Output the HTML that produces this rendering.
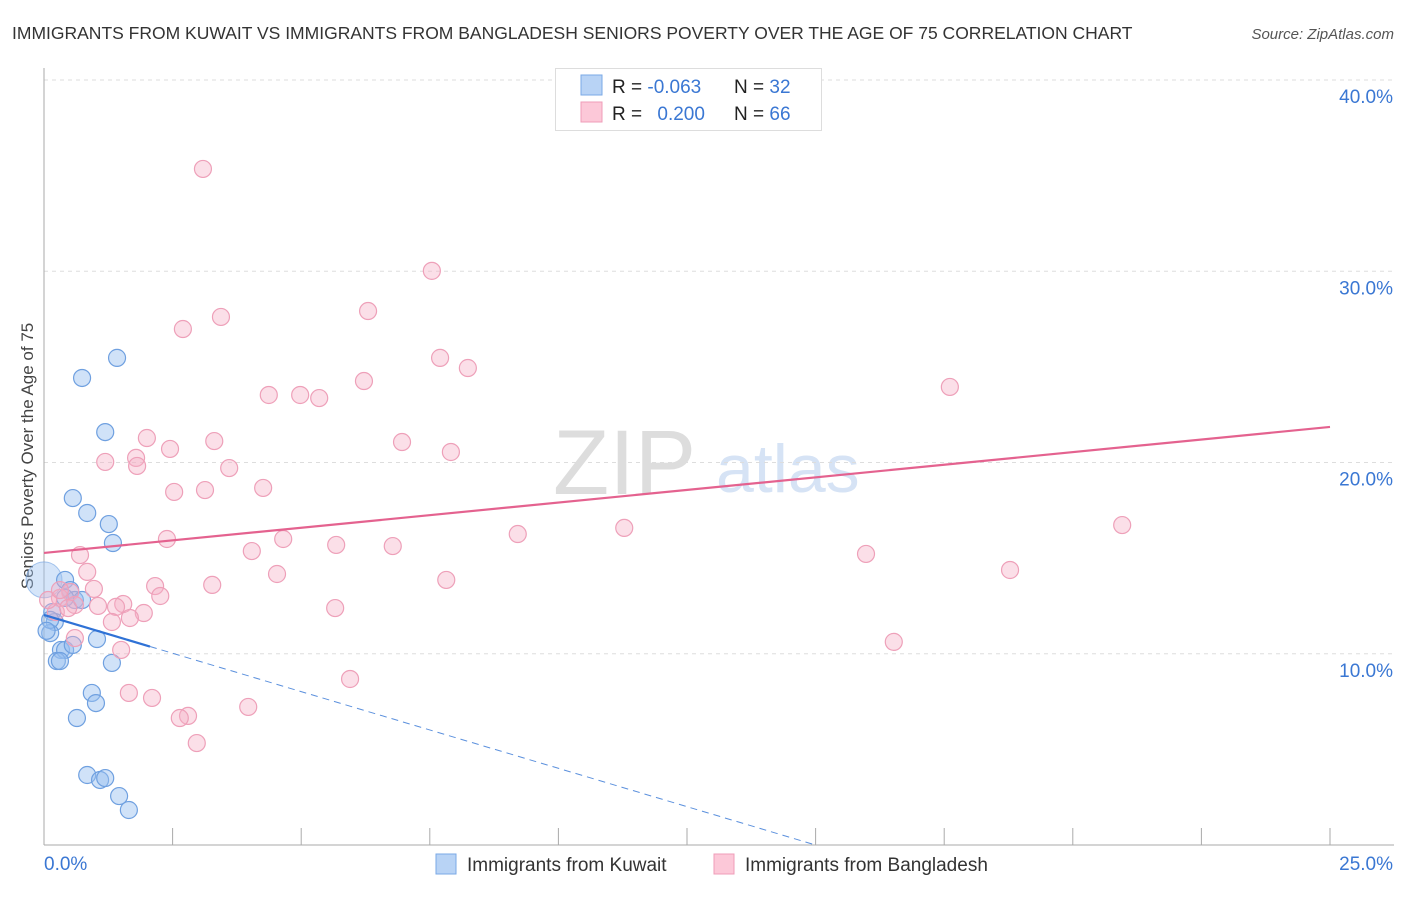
<!DOCTYPE html>
<html><head><meta charset="utf-8"><style>
body{margin:0;background:#fff;font-family:"Liberation Sans",sans-serif;}
svg text{font-family:"Liberation Sans",sans-serif;}
</style></head><body>
<svg id="c" width="1406" height="892" xmlns="http://www.w3.org/2000/svg">
<text x="12" y="39" font-size="17.5" fill="#333">IMMIGRANTS FROM KUWAIT VS IMMIGRANTS FROM BANGLADESH SENIORS POVERTY OVER THE AGE OF 75 CORRELATION CHART</text>
<text x="1394" y="39" font-size="15" fill="#555" font-style="italic" text-anchor="end">Source: ZipAtlas.com</text>
<text transform="translate(33,456) rotate(-90)" font-size="17" fill="#444" text-anchor="middle">Seniors Poverty Over the Age of 75</text>
<g>
<text x="553" y="494" font-size="92" fill="#ddd" font-family="Liberation Serif">ZIP</text>
<text x="716" y="492" font-size="68" fill="#d6e3f5">atlas</text>
</g>
<g id="grid"></g><g id="axes"></g><g id="pts"></g><g id="lines"></g>
<g>
<rect x="555.5" y="68.5" width="266" height="62" fill="#fff" stroke="#ddd"/>
<rect x="581" y="75" width="21" height="20" fill="#b8d3f5" stroke="#7aa8e6"/>
<rect x="581" y="102" width="21" height="20" fill="#fcc8d8" stroke="#ef9db8"/>
<text x="612" y="93" font-size="19" fill="#222">R = <tspan fill="#3a77d3">-0.063</tspan></text>
<text x="734" y="93" font-size="19" fill="#222">N = <tspan fill="#3a77d3">32</tspan></text>
<text x="612" y="120" font-size="19" fill="#222">R = <tspan fill="#3a77d3" dx="10">0.200</tspan></text>
<text x="734" y="120" font-size="19" fill="#222">N = <tspan fill="#3a77d3">66</tspan></text>
</g>
<g>
<rect x="436" y="854" width="20" height="20" fill="#b8d3f5" stroke="#7aa8e6"/>
<text x="467" y="871" font-size="19" fill="#333">Immigrants from Kuwait</text>
<rect x="714" y="854" width="20" height="20" fill="#fcc8d8" stroke="#ef9db8"/>
<text x="745" y="871" font-size="19" fill="#333">Immigrants from Bangladesh</text>
</g>
</svg>
<script>
const yTicks=[10,20,30,40];
const yTickLabels=["10.0%","20.0%","30.0%","40.0%"];
const xTickCount=10;
const xEndLabels=["0.0%","25.0%"];
const kuwaitX=[1.42,0.74,1.19,0.56,0.84,1.26,1.34,0.41,0.51,0.60,0.74,0.16,0.21,0.12,0.33,0.41,0.56,1.03,0.25,0.31,1.32,0.93,1.01,0.64,0.84,1.09,1.19,1.46,1.65,0.12,0.41,0.05];
const kuwaitY=[25.47,24.42,21.59,18.14,17.36,16.78,15.79,13.86,13.33,12.81,12.81,12.18,11.66,11.08,10.20,10.20,10.46,10.77,9.62,9.62,9.52,7.95,7.42,6.64,3.66,3.40,3.50,2.56,1.83,11.77,12.92,11.2];
const bangX=[3.09,7.54,6.30,3.44,2.70,7.70,8.24,6.22,17.61,4.37,4.98,5.35,2.00,3.31,6.96,2.45,7.91,1.19,1.79,1.81,3.60,2.53,3.13,4.26,20.96,11.28,9.21,2.39,4.65,5.68,6.78,4.04,15.98,0.70,18.78,0.84,4.53,7.82,2.16,3.27,0.97,0.51,2.26,0.31,1.54,1.40,1.05,5.66,1.94,0.60,0.23,1.67,1.32,16.52,1.50,0.60,5.95,1.65,2.10,3.97,2.80,2.64,2.97,0.08,0.31,0.47];
const bangY=[35.35,30.02,27.92,27.61,26.98,25.47,24.94,24.26,23.95,23.53,23.53,23.37,21.28,21.12,21.07,20.71,20.55,20.03,20.24,19.82,19.71,18.46,18.56,18.67,16.73,16.58,16.26,16.00,16.00,15.69,15.63,15.37,15.22,15.16,14.38,14.28,14.17,13.86,13.54,13.60,13.39,13.23,13.02,12.92,12.60,12.45,12.50,12.39,12.13,12.55,12.18,11.87,11.66,10.62,10.20,10.82,8.68,7.95,7.69,7.22,6.75,6.64,5.33,12.81,13.33,12.39];
const bangTrend=[15.27,21.86];
const kuwaitTrend=[12.03,-0.802];
const kuwaitSolidEnd=2.06;
const kuwaitBig=[0,13.86];

const NS="http://www.w3.org/2000/svg";
const X0=44,X1=1330,Y0=845,Y40=80;
const sx=v=>X0+v/25*(X1-X0);
const sy=v=>Y0-v/40*(Y0-Y40);
function mk(t,a,p){const e=document.createElementNS(NS,t);for(const k in a)e.setAttribute(k,a[k]);p.appendChild(e);return e;}
const grid=document.getElementById('grid'),axes=document.getElementById('axes'),pts=document.getElementById('pts'),lines=document.getElementById('lines');
yTicks.forEach((t,i)=>{
 const g=mk('line',{x1:X0,x2:1394,y1:sy(t),y2:sy(t),stroke:'#ddd','stroke-dasharray':'4,4'},grid);
 
 
 const l=mk('text',{x:1393,y:sy(t)+23,'font-size':19,fill:'#3a77d3','text-anchor':'end'},axes);
 l.textContent=yTickLabels[i];
 
 
});
const ya=mk('line',{x1:X0,x2:X0,y1:68,y2:Y0,stroke:'#aaa'},axes);


const xa=mk('line',{x1:X0,x2:1394,y1:Y0,y2:Y0,stroke:'#aaa'},axes);


for(let i=0;i<=xTickCount;i++){
 const v=25*i/xTickCount;
 const t=mk('line',{x1:sx(v),x2:sx(v),y1:Y0,y2:Y0-17,stroke:'#aaa'},axes);
 
 
}
const xl0=mk('text',{x:44,y:870,'font-size':19,fill:'#3a77d3'},axes);xl0.textContent=xEndLabels[0];


const xl1=mk('text',{x:1393,y:870,'font-size':19,fill:'#3a77d3','text-anchor':'end'},axes);xl1.textContent=xEndLabels[1];



const big=mk('circle',{cx:sx(kuwaitBig[0]),cy:sy(kuwaitBig[1]),r:18,fill:'rgba(150,190,240,0.4)',stroke:'rgba(110,160,225,0.6)'},pts);


kuwaitX.forEach((x,i)=>{
 const c=mk('circle',{cx:sx(x),cy:sy(kuwaitY[i]),r:8.5,fill:'rgba(150,190,240,0.45)',stroke:'#6fa0e0','stroke-width':1.2},pts);
 
 
});
bangX.forEach((x,i)=>{
 const c=mk('circle',{cx:sx(x),cy:sy(bangY[i]),r:8.5,fill:'rgba(246,175,198,0.4)',stroke:'#eea0b9','stroke-width':1.2},pts);
 
 
});
const pl=mk('line',{x1:sx(0),y1:sy(bangTrend[0]),x2:sx(25),y2:sy(bangTrend[1]),stroke:'#e4628f','stroke-width':2.2},lines);


const kf=x=>kuwaitTrend[0]+kuwaitTrend[1]*x;
const ks=mk('line',{x1:sx(0),y1:sy(kf(0)),x2:sx(kuwaitSolidEnd),y2:sy(kf(kuwaitSolidEnd)),stroke:'#2f72d6','stroke-width':2.2},lines);


const xz=-kuwaitTrend[0]/kuwaitTrend[1];
const kd=mk('line',{x1:sx(kuwaitSolidEnd),y1:sy(kf(kuwaitSolidEnd)),x2:sx(xz),y2:sy(0),stroke:'#5b90dd','stroke-width':1,'stroke-dasharray':'7,5'},lines);


</script>
</body></html>
